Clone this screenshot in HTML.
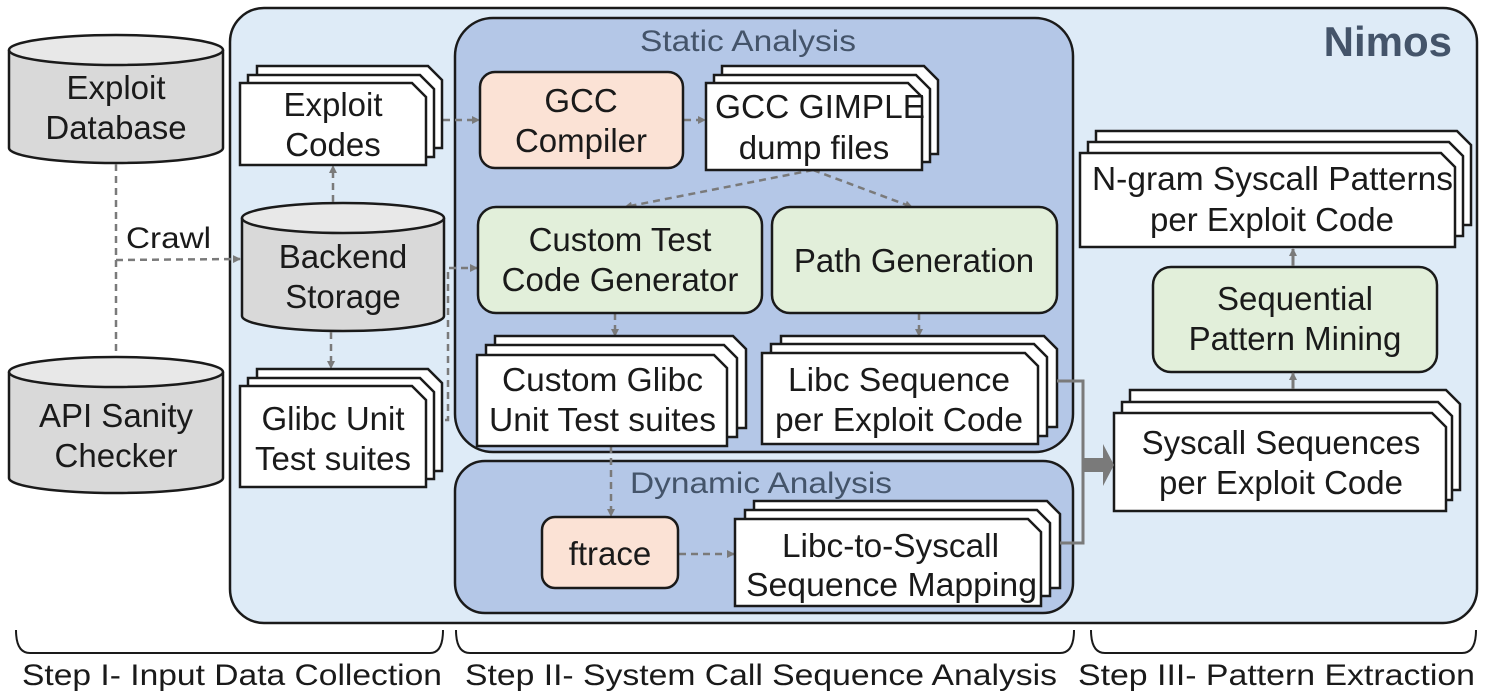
<!DOCTYPE html>
<html><head><meta charset="utf-8"><style>
html,body{margin:0;padding:0;background:#fff}
svg{display:block}
text{font-family:"Liberation Sans",sans-serif;fill:#1a1a1a}
</style></head><body>
<svg width="1488" height="695" viewBox="0 0 1488 695" xmlns="http://www.w3.org/2000/svg">
<defs>
<marker id="ah" markerWidth="8" markerHeight="8" refX="7" refY="4" orient="auto" markerUnits="userSpaceOnUse"><path d="M0,0 L8,4 L0,8 z" fill="#7a7a7a"/></marker>
</defs>

<rect x="230" y="8" width="1247" height="615" rx="34" fill="#deebf7" stroke="#1a1a1a" stroke-width="2.5"/>
<text x="1452" y="56" font-size="42" font-weight="bold" text-anchor="end" style="fill:#44546a">Nimos</text>

<rect x="455" y="18" width="618" height="434" rx="38" fill="#b4c7e7" stroke="#1a1a1a" stroke-width="2.5"/>
<text x="640" y="51" font-size="30" textLength="216" lengthAdjust="spacingAndGlyphs" style="fill:#44546a">Static Analysis</text>
<rect x="455" y="461" width="618" height="152" rx="30" fill="#b4c7e7" stroke="#1a1a1a" stroke-width="2.5"/>
<text x="630" y="493" font-size="30" textLength="262" lengthAdjust="spacingAndGlyphs" style="fill:#44546a">Dynamic Analysis</text>

<g stroke="#1a1a1a" stroke-width="2.5">
<path d="M9,50 L9,148 A107,15 0 0 0 223,148 L223,50" fill="#d9d9d9"/>
<ellipse cx="116" cy="50" rx="107" ry="15" fill="#e8e8e8"/>
<path d="M9,372 L9,478 A107,15 0 0 0 223,478 L223,372" fill="#d9d9d9"/>
<ellipse cx="116" cy="372" rx="107" ry="15" fill="#e8e8e8"/>
<path d="M242,218 L242,316 A101,15 0 0 0 444,316 L444,218" fill="#d9d9d9"/>
<ellipse cx="343" cy="218" rx="101" ry="15" fill="#e8e8e8"/>
</g>
<g font-size="33" text-anchor="middle">
<text x="116" y="99">Exploit</text>
<text x="116" y="139">Database</text>
<text x="116" y="427">API Sanity</text>
<text x="116" y="467">Checker</text>
<text x="343" y="268">Backend</text>
<text x="343" y="308">Storage</text>
</g>

<g stroke="#7a7a7a" stroke-width="2.5" stroke-dasharray="7,5" fill="none">
<line x1="116" y1="164" x2="116" y2="356"/>
<line x1="116" y1="260" x2="240" y2="259" marker-end="url(#ah)"/>
<line x1="333" y1="202" x2="333" y2="166" marker-end="url(#ah)"/>
<line x1="331" y1="332" x2="331" y2="368" marker-end="url(#ah)"/>
<line x1="443" y1="120" x2="479" y2="120" marker-end="url(#ah)"/>
<path d="M433,420 L448,420 L448,268 L477,268" marker-end="url(#ah)"/>
<line x1="684" y1="120" x2="705" y2="120" marker-end="url(#ah)"/>
<path d="M813,170 L625,207" marker-end="url(#ah)"/>
<path d="M813,170 L912,207" marker-end="url(#ah)"/>
<line x1="615" y1="313" x2="615" y2="336" marker-end="url(#ah)"/>
<line x1="919" y1="313" x2="919" y2="336" marker-end="url(#ah)"/>
<line x1="611" y1="446" x2="611" y2="516" marker-end="url(#ah)"/>
<line x1="679" y1="554" x2="734" y2="554" marker-end="url(#ah)"/>
</g>
<text x="126" y="248" font-size="30" textLength="85" lengthAdjust="spacingAndGlyphs">Crawl</text>

<g stroke="#1a1a1a" stroke-width="2.5">
<rect x="480" y="72" width="203" height="96" rx="15" fill="#fbe2d5"/>
<rect x="478" y="207" width="284" height="106" rx="18" fill="#e2efda"/>
<rect x="772" y="207" width="285" height="106" rx="18" fill="#e2efda"/>
<rect x="542" y="517" width="136" height="71" rx="13" fill="#fbe2d5"/>
<rect x="1153" y="267" width="284" height="105" rx="18" fill="#e2efda"/>
</g>
<g font-size="33" text-anchor="middle">
<text x="581" y="112">GCC</text>
<text x="581" y="152">Compiler</text>
<text x="620" y="251">Custom Test</text>
<text x="620" y="291">Code Generator</text>
<text x="914" y="272">Path Generation</text>
<text x="610" y="565">ftrace</text>
<text x="1295" y="310">Sequential</text>
<text x="1295" y="350">Pattern Mining</text>
</g>

<g stroke="#1a1a1a" stroke-width="2.5" fill="#fff">
<path d="M257,66 L428,66 L442,80 L442,148 L257,148 z"/>
<path d="M248,75 L420,75 L434,89 L434,157 L248,157 z"/>
<path d="M240,83 L412,83 L426,97 L426,165 L240,165 z"/>
<path d="M257,369 L428,369 L442,383 L442,471 L257,471 z"/>
<path d="M248,378 L420,378 L434,392 L434,479 L248,479 z"/>
<path d="M240,386 L412,386 L426,400 L426,487 L240,487 z"/>
<path d="M722,66 L924,66 L938,80 L938,154 L722,154 z"/>
<path d="M714,75 L916,75 L930,89 L930,162 L714,162 z"/>
<path d="M706,83 L908,83 L922,97 L922,170 L706,170 z"/>
<!-- Custom Glibc -->
<path d="M495,336 L733,336 L746,349 L746,428 L495,428 z"/>
<path d="M486,345 L724,345 L737,358 L737,437 L486,437 z"/>
<path d="M477,355 L714,355 L727,368 L727,446 L477,446 z"/>
<!-- Libc Sequence -->
<path d="M781,336 L1044,336 L1057,349 L1057,427 L781,427 z"/>
<path d="M771,344 L1034,344 L1047,357 L1047,436 L771,436 z"/>
<path d="M762,353 L1025,353 L1038,366 L1038,444 L762,444 z"/>
<!-- Libc-to-Syscall -->
<path d="M754,501 L1047,501 L1060,514 L1060,588 L754,588 z"/>
<path d="M745,510 L1037,510 L1050,523 L1050,596 L745,596 z"/>
<path d="M735,519 L1028,519 L1041,532 L1041,606 L735,606 z"/>
<path d="M1096,131 L1457,131 L1471,145 L1471,225 L1096,225 z"/>
<path d="M1088,142 L1449,142 L1463,156 L1463,236 L1088,236 z"/>
<path d="M1080,153 L1441,153 L1455,167 L1455,247 L1080,247 z"/>
<path d="M1130,390 L1446,390 L1460,404 L1460,490 L1130,490 z"/>
<path d="M1122,402 L1438,402 L1452,416 L1452,500 L1122,500 z"/>
<path d="M1114,413 L1432,413 L1446,427 L1446,511 L1114,511 z"/>
</g>
<g font-size="33">
<text x="333" y="116" text-anchor="middle">Exploit</text>
<text x="333" y="156" text-anchor="middle">Codes</text>
<text x="333" y="430" text-anchor="middle">Glibc Unit</text>
<text x="333" y="470" text-anchor="middle">Test suites</text>
<text x="715" y="118" textLength="210" lengthAdjust="spacingAndGlyphs">GCC GIMPLE</text>
<text x="814" y="159" text-anchor="middle">dump files</text>
<text x="502" y="391" textLength="201" lengthAdjust="spacingAndGlyphs">Custom Glibc</text>
<text x="489" y="431" textLength="227" lengthAdjust="spacingAndGlyphs">Unit Test suites</text>
<text x="788" y="391" textLength="222" lengthAdjust="spacingAndGlyphs">Libc Sequence</text>
<text x="775" y="431" textLength="248" lengthAdjust="spacingAndGlyphs">per Exploit Code</text>
<text x="782" y="557" textLength="217" lengthAdjust="spacingAndGlyphs">Libc-to-Syscall</text>
<text x="746" y="596" textLength="291" lengthAdjust="spacingAndGlyphs">Sequence Mapping</text>
<text x="1092" y="190" textLength="361" lengthAdjust="spacingAndGlyphs">N-gram Syscall Patterns</text>
<text x="1272" y="231" text-anchor="middle">per Exploit Code</text>
<text x="1281" y="454" text-anchor="middle">Syscall Sequences</text>
<text x="1281" y="494" text-anchor="middle">per Exploit Code</text>
</g>

<g stroke="#7a7a7a" stroke-width="3" fill="none">
<path d="M1057,381 L1083,381 L1083,543 L1060,543"/>
<line x1="1293" y1="266" x2="1293" y2="249" marker-end="url(#ah)"/>
<line x1="1293" y1="389" x2="1293" y2="373" marker-end="url(#ah)"/>
</g>
<path d="M1084,458 L1103,458 L1103,444 L1114,465 L1103,486 L1103,472 L1084,472 z" fill="#7a7a7a"/>

<g stroke="#1a1a1a" stroke-width="2" fill="none">
<path d="M16,630 Q16,653 30,653 L430,653 Q443,653 443,630"/>
<path d="M456,630 Q456,653 470,653 L1060,653 Q1074,653 1074,630"/>
<path d="M1091,630 Q1091,653 1105,653 L1462,653 Q1476,653 1476,630"/>
</g>
<text x="22" y="685" font-size="30" textLength="420" lengthAdjust="spacingAndGlyphs">Step I- Input Data Collection</text>
<text x="465" y="685" font-size="30" textLength="592" lengthAdjust="spacingAndGlyphs">Step II- System Call Sequence Analysis</text>
<text x="1078" y="685" font-size="30" textLength="397" lengthAdjust="spacingAndGlyphs">Step III- Pattern Extraction</text>
</svg>
</body></html>
